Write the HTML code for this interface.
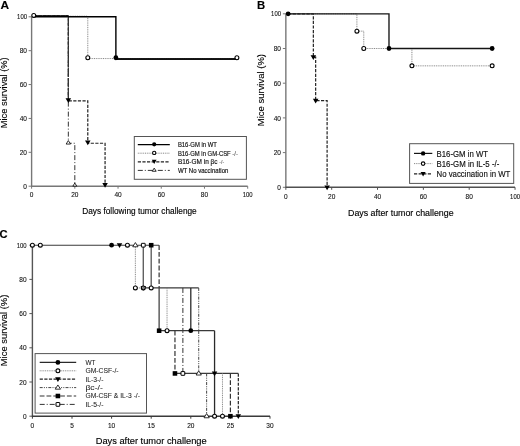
<!DOCTYPE html>
<html><head><meta charset="utf-8"><style>
html,body{margin:0;padding:0;background:#fff;}
svg{display:block;filter:grayscale(100%);}
text{font-family:"Liberation Sans",sans-serif;}
</style></head><body>
<svg width="520" height="446" viewBox="0 0 520 446">
<rect width="520" height="446" fill="#fff"/>
<text x="0.50" y="8.90" font-size="10.9" text-anchor="start" fill="#000" stroke="#000" stroke-width="0.12" textLength="8.6" lengthAdjust="spacingAndGlyphs" font-weight="bold" >A</text>
<line x1="31.60" y1="16.80" x2="31.60" y2="186.70" stroke="#777" stroke-width="1.4" />
<line x1="31.10" y1="186.20" x2="247.70" y2="186.20" stroke="#777" stroke-width="1.4" />
<line x1="28.60" y1="186.20" x2="31.60" y2="186.20" stroke="#777" stroke-width="1" />
<text x="27.00" y="188.80" font-size="6.6" text-anchor="end" fill="#111" stroke="#111" stroke-width="0.1" textLength="3.63" lengthAdjust="spacingAndGlyphs" >0</text>
<line x1="28.60" y1="152.32" x2="31.60" y2="152.32" stroke="#777" stroke-width="1" />
<text x="27.00" y="154.92" font-size="6.6" text-anchor="end" fill="#111" stroke="#111" stroke-width="0.1" textLength="7.27" lengthAdjust="spacingAndGlyphs" >20</text>
<line x1="28.60" y1="118.44" x2="31.60" y2="118.44" stroke="#777" stroke-width="1" />
<text x="27.00" y="121.04" font-size="6.6" text-anchor="end" fill="#111" stroke="#111" stroke-width="0.1" textLength="7.27" lengthAdjust="spacingAndGlyphs" >40</text>
<line x1="28.60" y1="84.56" x2="31.60" y2="84.56" stroke="#777" stroke-width="1" />
<text x="27.00" y="87.16" font-size="6.6" text-anchor="end" fill="#111" stroke="#111" stroke-width="0.1" textLength="7.27" lengthAdjust="spacingAndGlyphs" >60</text>
<line x1="28.60" y1="50.68" x2="31.60" y2="50.68" stroke="#777" stroke-width="1" />
<text x="27.00" y="53.28" font-size="6.6" text-anchor="end" fill="#111" stroke="#111" stroke-width="0.1" textLength="7.27" lengthAdjust="spacingAndGlyphs" >80</text>
<line x1="28.60" y1="16.80" x2="31.60" y2="16.80" stroke="#777" stroke-width="1" />
<text x="27.00" y="19.40" font-size="6.6" text-anchor="end" fill="#111" stroke="#111" stroke-width="0.1" textLength="9.91" lengthAdjust="spacingAndGlyphs" >100</text>
<line x1="31.60" y1="186.20" x2="31.60" y2="188.70" stroke="#777" stroke-width="1" />
<text x="31.60" y="197.40" font-size="6.6" text-anchor="middle" fill="#111" stroke="#111" stroke-width="0.1" textLength="3.63" lengthAdjust="spacingAndGlyphs" >0</text>
<line x1="74.82" y1="186.20" x2="74.82" y2="188.70" stroke="#777" stroke-width="1" />
<text x="74.82" y="197.40" font-size="6.6" text-anchor="middle" fill="#111" stroke="#111" stroke-width="0.1" textLength="7.27" lengthAdjust="spacingAndGlyphs" >20</text>
<line x1="118.04" y1="186.20" x2="118.04" y2="188.70" stroke="#777" stroke-width="1" />
<text x="118.04" y="197.40" font-size="6.6" text-anchor="middle" fill="#111" stroke="#111" stroke-width="0.1" textLength="7.27" lengthAdjust="spacingAndGlyphs" >40</text>
<line x1="161.26" y1="186.20" x2="161.26" y2="188.70" stroke="#777" stroke-width="1" />
<text x="161.26" y="197.40" font-size="6.6" text-anchor="middle" fill="#111" stroke="#111" stroke-width="0.1" textLength="7.27" lengthAdjust="spacingAndGlyphs" >60</text>
<line x1="204.48" y1="186.20" x2="204.48" y2="188.70" stroke="#777" stroke-width="1" />
<text x="204.48" y="197.40" font-size="6.6" text-anchor="middle" fill="#111" stroke="#111" stroke-width="0.1" textLength="7.27" lengthAdjust="spacingAndGlyphs" >80</text>
<line x1="247.70" y1="186.20" x2="247.70" y2="188.70" stroke="#777" stroke-width="1" />
<text x="247.70" y="197.40" font-size="6.6" text-anchor="middle" fill="#111" stroke="#111" stroke-width="0.1" textLength="9.91" lengthAdjust="spacingAndGlyphs" >100</text>
<text x="3.70" y="92.80" font-size="9.6" text-anchor="middle" fill="#000" stroke="#000" stroke-width="0.12" textLength="70.9" lengthAdjust="spacingAndGlyphs" transform="rotate(-90 3.7 92.8)" dy="3.4">Mice survival (%)</text>
<text x="82.30" y="213.60" font-size="9.5" text-anchor="start" fill="#000" stroke="#000" stroke-width="0.15" textLength="114.4" lengthAdjust="spacingAndGlyphs" >Days following tumor challenge</text>
<path d="M33.76,16.20 L68.34,16.20 L68.34,16.20 L68.34,16.20 L68.34,143.25 L74.82,143.25 L74.82,143.25 L74.82,143.25 L74.82,185.60" fill="none" stroke="#333" stroke-width="1.0" stroke-dasharray="5,2,1,2"/>
<path d="M33.76,16.20 L87.79,16.20 L87.79,16.20 L87.79,16.20 L87.79,58.55 L236.90,58.55 L236.90,58.55" fill="none" stroke="#888" stroke-width="1.0" stroke-dasharray="1,0.8"/>
<path d="M33.76,16.20 L68.34,16.20 L68.34,16.20 L68.34,16.20 L68.34,100.90 L87.79,100.90 L87.79,100.90 L87.79,100.90 L87.79,143.25 L105.07,143.25 L105.07,143.25 L105.07,143.25 L105.07,185.60" fill="none" stroke="#222" stroke-width="1.2" stroke-dasharray="3.2,1.4"/>
<line x1="68.34" y1="16.20" x2="68.34" y2="100.90" stroke="#333" stroke-width="1.2" stroke-dasharray="9,1.3" />
<path d="M33.76,16.70 L115.88,16.70 L115.88,16.70 L115.88,16.70 L115.88,59.05 L236.90,59.05 L236.90,59.05" fill="none" stroke="#000" stroke-width="1.4"/>
<line x1="115.88" y1="59.05" x2="236.90" y2="59.05" stroke="#111" stroke-width="1.65" />
<line x1="33.76" y1="16.20" x2="68.34" y2="16.20" stroke="#000" stroke-width="1.7" />
<circle cx="33.76" cy="15.40" r="1.95" fill="#fff" stroke="#000" stroke-width="1.1"/>
<circle cx="115.88" cy="57.75" r="2.4" fill="#000"/>
<circle cx="87.79" cy="57.75" r="1.95" fill="#fff" stroke="#000" stroke-width="1.1"/>
<circle cx="236.90" cy="57.75" r="1.95" fill="#fff" stroke="#000" stroke-width="1.1"/>
<path d="M65.58,98.18 L71.10,98.18 L68.34,102.98 Z" fill="#000"/>
<path d="M85.03,140.53 L90.55,140.53 L87.79,145.33 Z" fill="#000"/>
<path d="M102.31,182.88 L107.83,182.88 L105.07,187.68 Z" fill="#000"/>
<path d="M66.14,144.07 L70.54,144.07 L68.34,140.55 Z" fill="#fff" stroke="#000" stroke-width="0.8"/>
<path d="M72.84,186.19 L76.80,186.19 L74.82,183.02 Z" fill="#fff" stroke="#000" stroke-width="0.8"/>
<rect x="134.3" y="136.5" width="112.1" height="42.8" fill="#fff" stroke="#555" stroke-width="1"/>
<line x1="137.80" y1="144.60" x2="169.80" y2="144.60" stroke="#000" stroke-width="1.3" />
<circle cx="154.20" cy="144.30" r="2.1" fill="#000"/>
<text x="177.90" y="146.90" font-size="6.3" text-anchor="start" fill="#111" stroke="#111" stroke-width="0.15" textLength="39.0" lengthAdjust="spacingAndGlyphs" >B16-GM in WT</text>
<line x1="137.80" y1="153.20" x2="169.80" y2="153.20" stroke="#888" stroke-width="1.0" stroke-dasharray="1,0.8" />
<circle cx="154.20" cy="152.90" r="1.6500000000000001" fill="#fff" stroke="#000" stroke-width="1.1"/>
<text x="177.90" y="155.50" font-size="6.3" text-anchor="start" fill="#111" stroke="#111" stroke-width="0.15" textLength="60.0" lengthAdjust="spacingAndGlyphs" >B16-GM in GM-CSF <tspan fill="#666" stroke="#666">-/-</tspan></text>
<line x1="137.80" y1="161.80" x2="169.80" y2="161.80" stroke="#222" stroke-width="1.2" stroke-dasharray="3.2,1.4" />
<path d="M151.78,159.82 L156.61,159.82 L154.20,164.02 Z" fill="#000"/>
<text x="177.90" y="164.10" font-size="6.3" text-anchor="start" fill="#111" stroke="#111" stroke-width="0.15" textLength="46.2" lengthAdjust="spacingAndGlyphs" >B16-GM in βc <tspan fill="#777" stroke="#777" font-size="5">-/-</tspan></text>
<line x1="137.80" y1="170.40" x2="169.80" y2="170.40" stroke="#333" stroke-width="1.0" stroke-dasharray="5,2,1,2" />
<path d="M152.22,171.29 L156.18,171.29 L154.20,168.12 Z" fill="#fff" stroke="#000" stroke-width="0.8"/>
<text x="177.90" y="172.70" font-size="6.3" text-anchor="start" fill="#111" stroke="#111" stroke-width="0.15" textLength="50.5" lengthAdjust="spacingAndGlyphs" >WT No vaccination</text>
<text x="257.00" y="8.70" font-size="11.3" text-anchor="start" fill="#000" stroke="#000" stroke-width="0.12" font-weight="bold" >B</text>
<line x1="285.85" y1="13.80" x2="285.85" y2="187.80" stroke="#777" stroke-width="1.4" />
<line x1="285.35" y1="187.30" x2="515.05" y2="187.30" stroke="#505050" stroke-width="1.4" />
<line x1="282.85" y1="187.30" x2="285.85" y2="187.30" stroke="#777" stroke-width="1" />
<text x="281.00" y="189.90" font-size="6.6" text-anchor="end" fill="#111" stroke="#111" stroke-width="0.1" textLength="3.63" lengthAdjust="spacingAndGlyphs" >0</text>
<line x1="282.85" y1="152.60" x2="285.85" y2="152.60" stroke="#777" stroke-width="1" />
<text x="281.00" y="155.20" font-size="6.6" text-anchor="end" fill="#111" stroke="#111" stroke-width="0.1" textLength="7.27" lengthAdjust="spacingAndGlyphs" >20</text>
<line x1="282.85" y1="117.90" x2="285.85" y2="117.90" stroke="#777" stroke-width="1" />
<text x="281.00" y="120.50" font-size="6.6" text-anchor="end" fill="#111" stroke="#111" stroke-width="0.1" textLength="7.27" lengthAdjust="spacingAndGlyphs" >40</text>
<line x1="282.85" y1="83.20" x2="285.85" y2="83.20" stroke="#777" stroke-width="1" />
<text x="281.00" y="85.80" font-size="6.6" text-anchor="end" fill="#111" stroke="#111" stroke-width="0.1" textLength="7.27" lengthAdjust="spacingAndGlyphs" >60</text>
<line x1="282.85" y1="48.50" x2="285.85" y2="48.50" stroke="#777" stroke-width="1" />
<text x="281.00" y="51.10" font-size="6.6" text-anchor="end" fill="#111" stroke="#111" stroke-width="0.1" textLength="7.27" lengthAdjust="spacingAndGlyphs" >80</text>
<line x1="282.85" y1="13.80" x2="285.85" y2="13.80" stroke="#777" stroke-width="1" />
<text x="281.00" y="16.40" font-size="6.6" text-anchor="end" fill="#111" stroke="#111" stroke-width="0.1" textLength="9.91" lengthAdjust="spacingAndGlyphs" >100</text>
<line x1="285.85" y1="187.30" x2="285.85" y2="189.80" stroke="#505050" stroke-width="1" />
<text x="285.85" y="198.70" font-size="6.6" text-anchor="middle" fill="#111" stroke="#111" stroke-width="0.1" textLength="3.63" lengthAdjust="spacingAndGlyphs" >0</text>
<line x1="331.69" y1="187.30" x2="331.69" y2="189.80" stroke="#505050" stroke-width="1" />
<text x="331.69" y="198.70" font-size="6.6" text-anchor="middle" fill="#111" stroke="#111" stroke-width="0.1" textLength="7.27" lengthAdjust="spacingAndGlyphs" >20</text>
<line x1="377.53" y1="187.30" x2="377.53" y2="189.80" stroke="#505050" stroke-width="1" />
<text x="377.53" y="198.70" font-size="6.6" text-anchor="middle" fill="#111" stroke="#111" stroke-width="0.1" textLength="7.27" lengthAdjust="spacingAndGlyphs" >40</text>
<line x1="423.37" y1="187.30" x2="423.37" y2="189.80" stroke="#505050" stroke-width="1" />
<text x="423.37" y="198.70" font-size="6.6" text-anchor="middle" fill="#111" stroke="#111" stroke-width="0.1" textLength="7.27" lengthAdjust="spacingAndGlyphs" >60</text>
<line x1="469.21" y1="187.30" x2="469.21" y2="189.80" stroke="#505050" stroke-width="1" />
<text x="469.21" y="198.70" font-size="6.6" text-anchor="middle" fill="#111" stroke="#111" stroke-width="0.1" textLength="7.27" lengthAdjust="spacingAndGlyphs" >80</text>
<line x1="515.05" y1="187.30" x2="515.05" y2="189.80" stroke="#505050" stroke-width="1" />
<text x="515.05" y="198.70" font-size="6.6" text-anchor="middle" fill="#111" stroke="#111" stroke-width="0.1" textLength="9.91" lengthAdjust="spacingAndGlyphs" >100</text>
<text x="260.20" y="90.10" font-size="9.6" text-anchor="middle" fill="#000" stroke="#000" stroke-width="0.12" textLength="72.2" lengthAdjust="spacingAndGlyphs" transform="rotate(-90 260.2 90.1)" dy="3.4">Mice survival (%)</text>
<text x="348.00" y="216.30" font-size="9.8" text-anchor="start" fill="#000" stroke="#000" stroke-width="0.15" textLength="105.6" lengthAdjust="spacingAndGlyphs" >Days after tumor challenge</text>
<path d="M288.14,13.80 L313.35,13.80 L313.35,13.80 L313.35,13.80 L313.35,57.18 L315.65,57.18 L315.65,57.18 L315.65,57.18 L315.65,100.55 L327.11,100.55 L327.11,100.55 L327.11,100.55 L327.11,187.30" fill="none" stroke="#222" stroke-width="1.2" stroke-dasharray="3.2,1.4"/>
<path d="M288.14,13.80 L356.90,13.80 L356.90,13.80 L356.90,13.80 L356.90,31.15 L363.78,31.15 L363.78,31.15 L363.78,31.15 L363.78,48.50 L411.91,48.50 L411.91,48.50 L411.91,48.50 L411.91,65.85 L492.13,65.85 L492.13,65.85" fill="none" stroke="#888" stroke-width="1.0" stroke-dasharray="1,0.8"/>
<path d="M288.14,13.80 L388.99,13.80 L388.99,13.80 L388.99,13.80 L388.99,48.50 L492.13,48.50 L492.13,48.50" fill="none" stroke="#151515" stroke-width="1.35"/>
<circle cx="288.14" cy="13.80" r="2.4" fill="#000"/>
<circle cx="388.99" cy="48.50" r="2.4" fill="#000"/>
<circle cx="492.13" cy="48.50" r="2.4" fill="#000"/>
<circle cx="356.90" cy="31.15" r="1.95" fill="#fff" stroke="#000" stroke-width="1.1"/>
<circle cx="363.78" cy="48.50" r="1.95" fill="#fff" stroke="#000" stroke-width="1.1"/>
<circle cx="411.91" cy="65.85" r="1.95" fill="#fff" stroke="#000" stroke-width="1.1"/>
<circle cx="492.13" cy="65.85" r="1.95" fill="#fff" stroke="#000" stroke-width="1.1"/>
<path d="M310.59,55.26 L316.11,55.26 L313.35,60.06 Z" fill="#000"/>
<path d="M312.89,98.63 L318.41,98.63 L315.65,103.43 Z" fill="#000"/>
<path d="M324.35,185.38 L329.87,185.38 L327.11,190.18 Z" fill="#000"/>
<rect x="409.6" y="143.7" width="104.1" height="39.7" fill="#fff" stroke="#555" stroke-width="1"/>
<line x1="414.00" y1="153.40" x2="432.30" y2="153.40" stroke="#151515" stroke-width="1.2" />
<circle cx="423.10" cy="153.40" r="2.2" fill="#000"/>
<text x="436.50" y="156.60" font-size="8.7" text-anchor="start" fill="#111" stroke="#111" stroke-width="0.15" textLength="51.6" lengthAdjust="spacingAndGlyphs" >B16-GM in WT</text>
<line x1="414.00" y1="163.60" x2="432.30" y2="163.60" stroke="#888" stroke-width="1.0" stroke-dasharray="1,0.8" />
<circle cx="423.10" cy="163.60" r="1.7500000000000002" fill="#fff" stroke="#000" stroke-width="1.1"/>
<text x="436.50" y="166.65" font-size="8.7" text-anchor="start" fill="#111" stroke="#111" stroke-width="0.15" textLength="62.8" lengthAdjust="spacingAndGlyphs" >B16-GM in IL-5 -/-</text>
<line x1="414.00" y1="173.80" x2="432.30" y2="173.80" stroke="#222" stroke-width="1.2" stroke-dasharray="3.2,1.4" />
<path d="M420.57,172.04 L425.63,172.04 L423.10,176.44 Z" fill="#000"/>
<text x="436.50" y="176.70" font-size="8.7" text-anchor="start" fill="#111" stroke="#111" stroke-width="0.15" textLength="73.8" lengthAdjust="spacingAndGlyphs" >No vaccination in WT</text>
<text x="-0.40" y="237.50" font-size="11.2" text-anchor="start" fill="#000" stroke="#000" stroke-width="0.12" font-weight="bold" >C</text>
<line x1="32.40" y1="245.20" x2="32.40" y2="416.70" stroke="#555" stroke-width="1.4" />
<line x1="31.90" y1="416.20" x2="270.00" y2="416.20" stroke="#3a3a3a" stroke-width="1.4" />
<line x1="29.40" y1="416.20" x2="32.40" y2="416.20" stroke="#555" stroke-width="1" />
<text x="26.60" y="418.80" font-size="6.6" text-anchor="end" fill="#111" stroke="#111" stroke-width="0.1" textLength="3.63" lengthAdjust="spacingAndGlyphs" >0</text>
<line x1="29.40" y1="382.00" x2="32.40" y2="382.00" stroke="#555" stroke-width="1" />
<text x="26.60" y="384.60" font-size="6.6" text-anchor="end" fill="#111" stroke="#111" stroke-width="0.1" textLength="7.27" lengthAdjust="spacingAndGlyphs" >20</text>
<line x1="29.40" y1="347.80" x2="32.40" y2="347.80" stroke="#555" stroke-width="1" />
<text x="26.60" y="350.40" font-size="6.6" text-anchor="end" fill="#111" stroke="#111" stroke-width="0.1" textLength="7.27" lengthAdjust="spacingAndGlyphs" >40</text>
<line x1="29.40" y1="313.60" x2="32.40" y2="313.60" stroke="#555" stroke-width="1" />
<text x="26.60" y="316.20" font-size="6.6" text-anchor="end" fill="#111" stroke="#111" stroke-width="0.1" textLength="7.27" lengthAdjust="spacingAndGlyphs" >60</text>
<line x1="29.40" y1="279.40" x2="32.40" y2="279.40" stroke="#555" stroke-width="1" />
<text x="26.60" y="282.00" font-size="6.6" text-anchor="end" fill="#111" stroke="#111" stroke-width="0.1" textLength="7.27" lengthAdjust="spacingAndGlyphs" >80</text>
<line x1="29.40" y1="245.20" x2="32.40" y2="245.20" stroke="#555" stroke-width="1" />
<text x="26.60" y="247.80" font-size="6.6" text-anchor="end" fill="#111" stroke="#111" stroke-width="0.1" textLength="9.91" lengthAdjust="spacingAndGlyphs" >100</text>
<line x1="32.40" y1="416.20" x2="32.40" y2="418.70" stroke="#3a3a3a" stroke-width="1" />
<text x="32.40" y="428.30" font-size="6.6" text-anchor="middle" fill="#111" stroke="#111" stroke-width="0.1" textLength="3.63" lengthAdjust="spacingAndGlyphs" >0</text>
<line x1="72.00" y1="416.20" x2="72.00" y2="418.70" stroke="#3a3a3a" stroke-width="1" />
<text x="72.00" y="428.30" font-size="6.6" text-anchor="middle" fill="#111" stroke="#111" stroke-width="0.1" textLength="3.63" lengthAdjust="spacingAndGlyphs" >5</text>
<line x1="111.60" y1="416.20" x2="111.60" y2="418.70" stroke="#3a3a3a" stroke-width="1" />
<text x="111.60" y="428.30" font-size="6.6" text-anchor="middle" fill="#111" stroke="#111" stroke-width="0.1" textLength="7.27" lengthAdjust="spacingAndGlyphs" >10</text>
<line x1="151.20" y1="416.20" x2="151.20" y2="418.70" stroke="#3a3a3a" stroke-width="1" />
<text x="151.20" y="428.30" font-size="6.6" text-anchor="middle" fill="#111" stroke="#111" stroke-width="0.1" textLength="7.27" lengthAdjust="spacingAndGlyphs" >15</text>
<line x1="190.80" y1="416.20" x2="190.80" y2="418.70" stroke="#3a3a3a" stroke-width="1" />
<text x="190.80" y="428.30" font-size="6.6" text-anchor="middle" fill="#111" stroke="#111" stroke-width="0.1" textLength="7.27" lengthAdjust="spacingAndGlyphs" >20</text>
<line x1="230.40" y1="416.20" x2="230.40" y2="418.70" stroke="#3a3a3a" stroke-width="1" />
<text x="230.40" y="428.30" font-size="6.6" text-anchor="middle" fill="#111" stroke="#111" stroke-width="0.1" textLength="7.27" lengthAdjust="spacingAndGlyphs" >25</text>
<line x1="270.00" y1="416.20" x2="270.00" y2="418.70" stroke="#3a3a3a" stroke-width="1" />
<text x="270.00" y="428.30" font-size="6.6" text-anchor="middle" fill="#111" stroke="#111" stroke-width="0.1" textLength="7.27" lengthAdjust="spacingAndGlyphs" >30</text>
<text x="3.80" y="330.45" font-size="9.6" text-anchor="middle" fill="#000" stroke="#000" stroke-width="0.12" textLength="71.6" lengthAdjust="spacingAndGlyphs" transform="rotate(-90 3.8 330.45)" dy="3.4">Mice survival (%)</text>
<text x="95.70" y="443.90" font-size="9.9" text-anchor="start" fill="#000" stroke="#000" stroke-width="0.15" textLength="111" lengthAdjust="spacingAndGlyphs" >Days after tumor challenge</text>
<line x1="32.40" y1="245.20" x2="159.12" y2="245.20" stroke="#3a3a3a" stroke-width="1.1" />
<line x1="135.36" y1="245.20" x2="135.36" y2="287.95" stroke="#888" stroke-width="1.0" stroke-dasharray="1,0.8" />
<line x1="143.28" y1="245.20" x2="143.28" y2="287.95" stroke="#555" stroke-width="1.3" />
<line x1="151.20" y1="245.20" x2="151.20" y2="287.95" stroke="#555" stroke-width="1.3" />
<line x1="159.12" y1="245.20" x2="159.12" y2="287.95" stroke="#333" stroke-width="1.2" stroke-dasharray="4.8,2" />
<line x1="159.12" y1="287.95" x2="159.12" y2="330.70" stroke="#444" stroke-width="1.3" />
<line x1="135.36" y1="287.95" x2="143.28" y2="287.95" stroke="#888" stroke-width="1.0" stroke-dasharray="1,0.8" />
<line x1="143.28" y1="287.95" x2="198.72" y2="287.95" stroke="#3a3a3a" stroke-width="1.3" />
<line x1="167.04" y1="287.95" x2="167.04" y2="330.70" stroke="#888" stroke-width="1.0" stroke-dasharray="1,0.8" />
<line x1="182.88" y1="287.95" x2="182.88" y2="373.45" stroke="#333" stroke-width="1.0" stroke-dasharray="5,2,1,2" />
<line x1="190.80" y1="287.95" x2="190.80" y2="330.70" stroke="#2a2a2a" stroke-width="1.3" />
<line x1="198.72" y1="287.95" x2="198.72" y2="373.45" stroke="#444" stroke-width="1.0" stroke-dasharray="3,1.2,1,1.2,1,1.2" />
<line x1="159.12" y1="330.70" x2="214.56" y2="330.70" stroke="#3a3a3a" stroke-width="1.3" />
<line x1="174.96" y1="330.70" x2="174.96" y2="373.45" stroke="#333" stroke-width="1.2" stroke-dasharray="4.8,2" />
<line x1="214.56" y1="330.70" x2="214.56" y2="416.20" stroke="#2a2a2a" stroke-width="1.3" />
<line x1="174.96" y1="373.45" x2="238.32" y2="373.45" stroke="#3a3a3a" stroke-width="1.2" />
<line x1="206.64" y1="373.45" x2="206.64" y2="416.20" stroke="#444" stroke-width="1.0" stroke-dasharray="3,1.2,1,1.2,1,1.2" />
<line x1="222.48" y1="373.45" x2="222.48" y2="416.20" stroke="#888" stroke-width="1.0" stroke-dasharray="1,0.8" />
<line x1="230.40" y1="373.45" x2="230.40" y2="416.20" stroke="#333" stroke-width="1.2" stroke-dasharray="4.8,2" />
<line x1="238.32" y1="373.45" x2="238.32" y2="416.20" stroke="#222" stroke-width="1.2" stroke-dasharray="3.2,1.4" />
<circle cx="32.40" cy="245.20" r="1.95" fill="#fff" stroke="#000" stroke-width="1.1"/>
<circle cx="40.32" cy="245.20" r="1.95" fill="#fff" stroke="#000" stroke-width="1.1"/>
<circle cx="111.60" cy="245.20" r="2.4" fill="#000"/>
<path d="M116.76,243.28 L122.28,243.28 L119.52,248.08 Z" fill="#000"/>
<circle cx="127.44" cy="245.20" r="1.95" fill="#fff" stroke="#000" stroke-width="1.1"/>
<path d="M132.72,246.78 L138.00,246.78 L135.36,242.56 Z" fill="#fff" stroke="#000" stroke-width="0.8"/>
<rect x="141.41" y="243.33" width="3.74" height="3.74" rx="0.25" fill="#fff" stroke="#000" stroke-width="1.0"/>
<rect x="148.92" y="242.92" width="4.56" height="4.56" fill="#000"/>
<circle cx="135.36" cy="287.95" r="1.95" fill="#fff" stroke="#000" stroke-width="1.1"/>
<path d="M140.52,286.03 L146.04,286.03 L143.28,290.83 Z" fill="#000"/>
<circle cx="143.28" cy="287.95" r="1.95" fill="#fff" stroke="#000" stroke-width="1.1"/>
<path d="M142.08,288.85 L144.48,288.85 L143.28,286.65 Z" fill="#fff" stroke="#000" stroke-width="0.6"/>
<circle cx="151.20" cy="287.95" r="1.95" fill="#fff" stroke="#000" stroke-width="1.1"/>
<rect x="156.84" y="328.42" width="4.56" height="4.56" fill="#000"/>
<circle cx="167.04" cy="330.70" r="1.95" fill="#fff" stroke="#000" stroke-width="1.1"/>
<circle cx="190.80" cy="330.70" r="2.4" fill="#000"/>
<rect x="172.68" y="371.17" width="4.56" height="4.56" fill="#000"/>
<rect x="181.01" y="371.58" width="3.74" height="3.74" rx="0.25" fill="#fff" stroke="#000" stroke-width="1.0"/>
<path d="M196.08,375.03 L201.36,375.03 L198.72,370.81 Z" fill="#fff" stroke="#000" stroke-width="0.8"/>
<path d="M211.80,371.53 L217.32,371.53 L214.56,376.33 Z" fill="#000"/>
<path d="M204.00,417.78 L209.28,417.78 L206.64,413.56 Z" fill="#fff" stroke="#000" stroke-width="0.8"/>
<circle cx="214.56" cy="416.20" r="1.95" fill="#fff" stroke="#000" stroke-width="1.1"/>
<circle cx="222.48" cy="416.20" r="1.95" fill="#fff" stroke="#000" stroke-width="1.1"/>
<rect x="228.12" y="413.92" width="4.56" height="4.56" fill="#000"/>
<path d="M235.56,414.28 L241.08,414.28 L238.32,419.08 Z" fill="#000"/>
<rect x="35.1" y="353.6" width="111.4" height="59.5" fill="#fff" stroke="#555" stroke-width="1"/>
<line x1="39.70" y1="362.40" x2="76.20" y2="362.40" stroke="#2a2a2a" stroke-width="1.3" />
<circle cx="57.90" cy="362.40" r="2.4" fill="#000"/>
<text x="85.40" y="364.70" font-size="6.4" text-anchor="start" fill="#1a1a1a" stroke="#1a1a1a" stroke-width="0.05" textLength="10.0" lengthAdjust="spacingAndGlyphs" >WT</text>
<line x1="39.70" y1="370.80" x2="76.20" y2="370.80" stroke="#888" stroke-width="1.0" stroke-dasharray="1,0.8" />
<circle cx="57.90" cy="370.80" r="1.95" fill="#fff" stroke="#000" stroke-width="1.1"/>
<text x="85.40" y="373.10" font-size="6.4" text-anchor="start" fill="#1a1a1a" stroke="#1a1a1a" stroke-width="0.05" textLength="33.2" lengthAdjust="spacingAndGlyphs" >GM-CSF-/-</text>
<line x1="39.70" y1="379.20" x2="76.20" y2="379.20" stroke="#222" stroke-width="1.2" stroke-dasharray="3.2,1.4" />
<path d="M55.14,377.28 L60.66,377.28 L57.90,382.08 Z" fill="#000"/>
<text x="85.40" y="381.50" font-size="6.4" text-anchor="start" fill="#1a1a1a" stroke="#1a1a1a" stroke-width="0.05" textLength="18.1" lengthAdjust="spacingAndGlyphs" >IL-3-/-</text>
<line x1="39.70" y1="387.60" x2="76.20" y2="387.60" stroke="#444" stroke-width="1.0" stroke-dasharray="3,1.2,1,1.2,1,1.2" />
<path d="M55.26,389.18 L60.54,389.18 L57.90,384.96 Z" fill="#fff" stroke="#000" stroke-width="0.8"/>
<text x="85.40" y="389.90" font-size="6.4" text-anchor="start" fill="#1a1a1a" stroke="#1a1a1a" stroke-width="0.05" textLength="17.4" lengthAdjust="spacingAndGlyphs" >βc-/-</text>
<line x1="39.70" y1="396.00" x2="76.20" y2="396.00" stroke="#333" stroke-width="1.2" stroke-dasharray="4.8,2" />
<rect x="55.62" y="393.72" width="4.56" height="4.56" fill="#000"/>
<text x="85.40" y="398.30" font-size="6.4" text-anchor="start" fill="#1a1a1a" stroke="#1a1a1a" stroke-width="0.05" textLength="54.6" lengthAdjust="spacingAndGlyphs" >GM-CSF &amp; IL-3 -/-</text>
<line x1="39.70" y1="404.40" x2="76.20" y2="404.40" stroke="#333" stroke-width="1.0" stroke-dasharray="5,2,1,2" />
<rect x="56.03" y="402.53" width="3.74" height="3.74" rx="0.25" fill="#fff" stroke="#000" stroke-width="1.0"/>
<text x="85.40" y="406.70" font-size="6.4" text-anchor="start" fill="#1a1a1a" stroke="#1a1a1a" stroke-width="0.05" textLength="18.1" lengthAdjust="spacingAndGlyphs" >IL-5-/-</text>
</svg>
</body></html>
